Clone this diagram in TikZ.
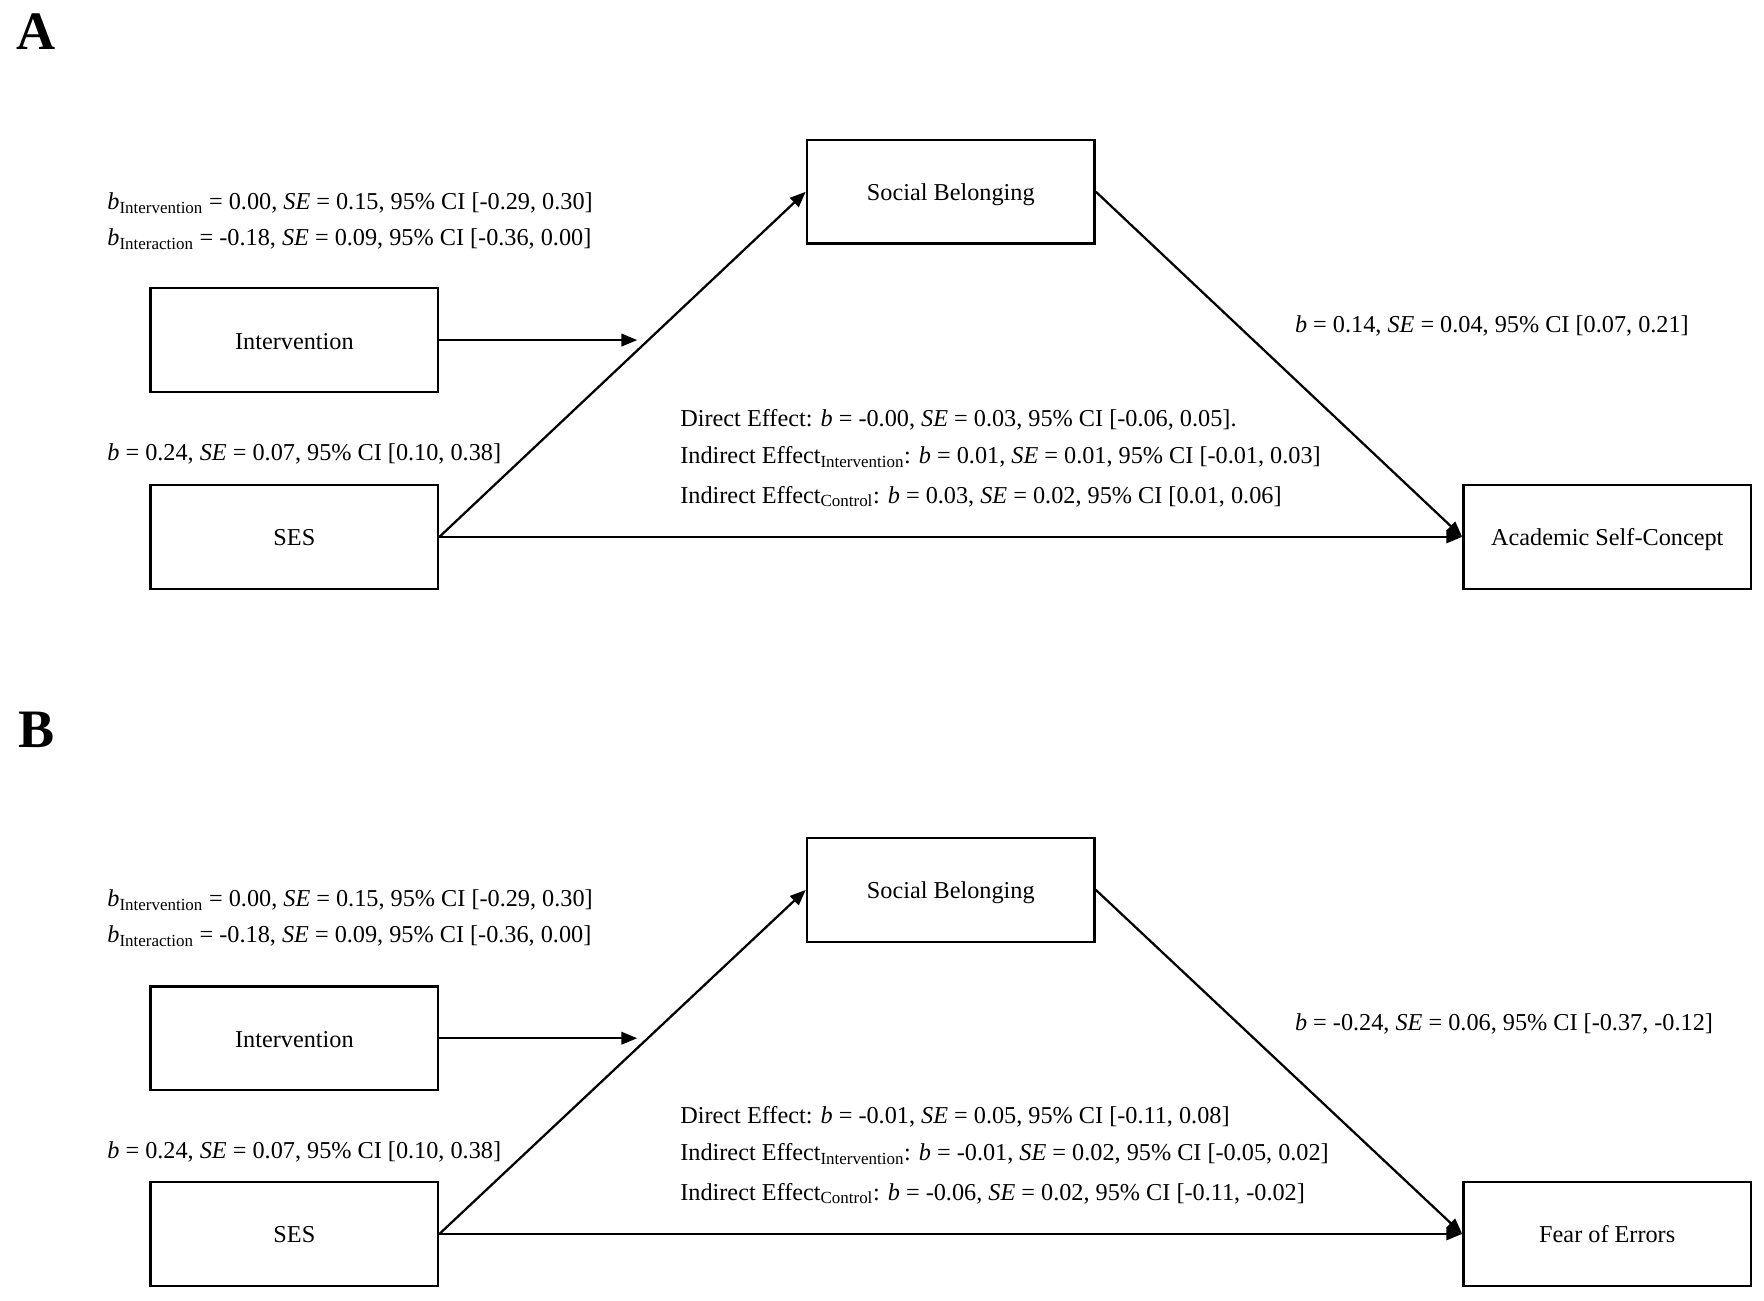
\documentclass[tikz,border=0pt]{standalone}
\usepackage{fontspec}
\setmainfont{Liberation Serif}
\usetikzlibrary{arrows.meta}
\begin{document}
\begin{tikzpicture}[x=1pt,y=-1pt,
  box/.style={draw,line width=2.2pt,minimum width=255pt,minimum height=92pt,inner sep=0pt,text height=21pt,text depth=5pt,font=\fontsize{21.5}{26}\selectfont},
  lbl/.style={anchor=base west,inner sep=0pt,font=\fontsize{21.5}{26}\selectfont},
  arr/.style={line width=2pt,-{Triangle[length=14pt,width=11pt]}},
  panel/.style={font=\fontsize{48}{56}\selectfont\bfseries,inner sep=0pt}]
\useasboundingbox (0,0) rectangle (1564,1153);

% ---------- Panel A ----------
\node[panel] (lA) at (32,28) {A};
\node[box] (sbA) at (843,170) {Social Belonging};
\node[box] (intA) at (261,301.5) {Intervention};
\node[box] (sesA) at (261,476) {SES};
\node[box] (ascA) at (1425,476) {Academic Self-Concept};
\coordinate (mA) at (565,301.5);

\draw[arr] (sesA.east) -- (sbA.west);
\draw[arr] (sbA.east) -- (ascA.west);
\draw[arr] (sesA.east) -- (ascA.west);
\draw[arr] (intA.east) -- (mA);

\node[lbl] (tA1) at (95,186) {\textit{b}\textsubscript{Intervention} = 0.00, \textit{SE} = 0.15, 95\% CI [-0.29, 0.30]};
\node[lbl] (tA2) at (95,218) {\textit{b}\textsubscript{Interaction} = -0.18, \textit{SE} = 0.09, 95\% CI [-0.36, 0.00]};
\node[lbl] (tA3) at (1148,295) {\textit{b} = 0.14, \textit{SE} = 0.04, 95\% CI [0.07, 0.21]};
\node[lbl] (tA4) at (603,378) {Direct Effect: \textit{b} = -0.00, \textit{SE} = 0.03, 95\% CI [-0.06, 0.05].};
\node[lbl] (tA5) at (603,411) {Indirect Effect\textsubscript{Intervention}: \textit{b} = 0.01, \textit{SE} = 0.01, 95\% CI [-0.01, 0.03]};
\node[lbl] (tA6) at (603,446) {Indirect Effect\textsubscript{Control}: \textit{b} = 0.03, \textit{SE} = 0.02, 95\% CI [0.01, 0.06]};
\node[lbl] (tA7) at (95,408) {\textit{b} = 0.24, \textit{SE} = 0.07, 95\% CI [0.10, 0.38]};

% ---------- Panel B ----------
\node[panel] (lB) at (32,647) {B};
\node[box] (sbB) at (843,789) {Social Belonging};
\node[box] (intB) at (261,920.5) {Intervention};
\node[box] (sesB) at (261,1094) {SES};
\node[box] (foeB) at (1425,1094) {Fear of Errors};
\coordinate (mB) at (565,920.5);

\draw[arr] (sesB.east) -- (sbB.west);
\draw[arr] (sbB.east) -- (foeB.west);
\draw[arr] (sesB.east) -- (foeB.west);
\draw[arr] (intB.east) -- (mB);

\node[lbl] (tB1) at (95,804) {\textit{b}\textsubscript{Intervention} = 0.00, \textit{SE} = 0.15, 95\% CI [-0.29, 0.30]};
\node[lbl] (tB2) at (95,836) {\textit{b}\textsubscript{Interaction} = -0.18, \textit{SE} = 0.09, 95\% CI [-0.36, 0.00]};
\node[lbl] (tB3) at (1148,914) {\textit{b} = -0.24, \textit{SE} = 0.06, 95\% CI [-0.37, -0.12]};
\node[lbl] (tB4) at (603,996) {Direct Effect: \textit{b} = -0.01, \textit{SE} = 0.05, 95\% CI [-0.11, 0.08]};
\node[lbl] (tB5) at (603,1029) {Indirect Effect\textsubscript{Intervention}: \textit{b} = -0.01, \textit{SE} = 0.02, 95\% CI [-0.05, 0.02]};
\node[lbl] (tB6) at (603,1064) {Indirect Effect\textsubscript{Control}: \textit{b} = -0.06, \textit{SE} = 0.02, 95\% CI [-0.11, -0.02]};
\node[lbl] (tB7) at (95,1027) {\textit{b} = 0.24, \textit{SE} = 0.07, 95\% CI [0.10, 0.38]};
\end{tikzpicture}
\end{document}
